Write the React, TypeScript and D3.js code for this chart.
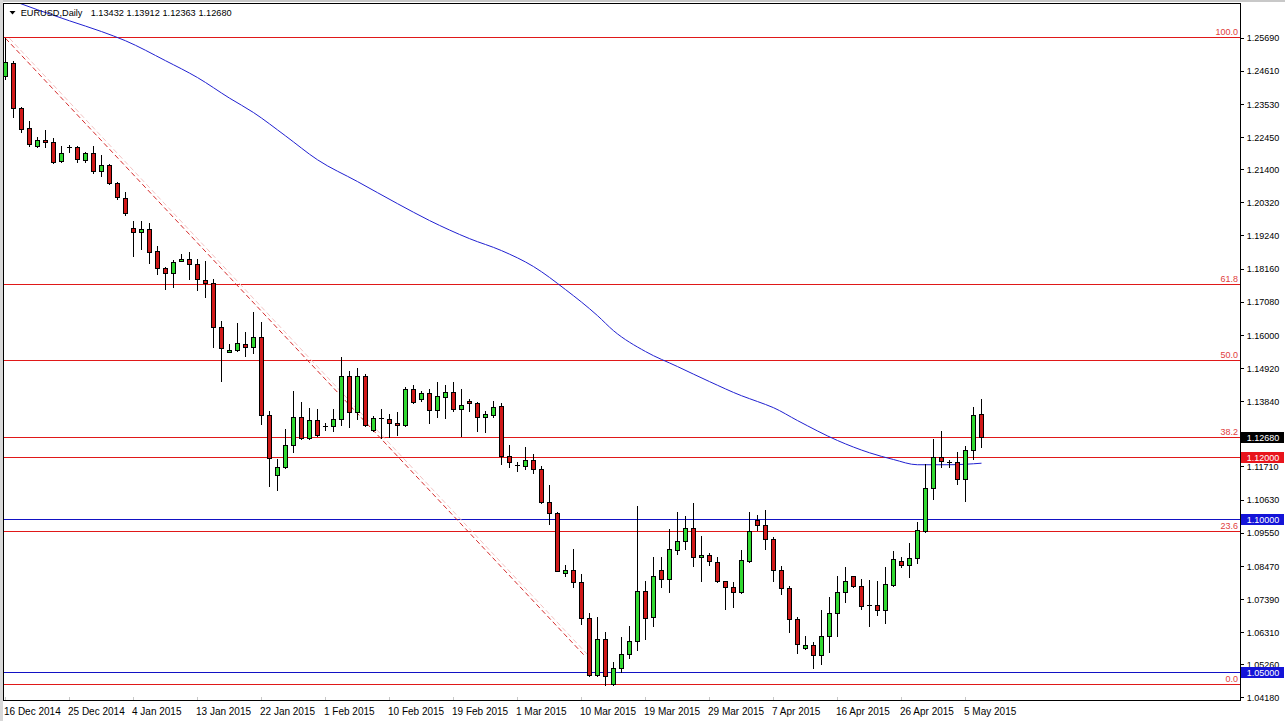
import React from 'react';
import * as d3 from 'd3';

const W = 1285;
const H = 721;

const symbolTitle = 'EURUSD,Daily';
const headerValues = ['1.13432', '1.13912', '1.12363', '1.12680'];

// [open, high, low, close] daily candles, 16 Dec 2014 .. 7 May 2015
const ohlc: [number, number, number, number][] = [
  [1.2446, 1.2570, 1.2436, 1.2490],
  [1.2487, 1.2493, 1.2313, 1.2341],
  [1.2342, 1.2345, 1.2261, 1.2274],
  [1.2275, 1.2300, 1.2218, 1.2223],
  [1.2217, 1.2245, 1.2215, 1.2238],
  [1.2238, 1.2270, 1.2213, 1.2230],
  [1.2231, 1.2243, 1.2160, 1.2166],
  [1.2167, 1.2218, 1.2166, 1.2193],
  [1.2213, 1.2220, 1.2196, 1.2212],
  [1.2213, 1.2218, 1.2164, 1.2175],
  [1.2170, 1.2196, 1.2166, 1.2194],
  [1.2194, 1.2218, 1.2128, 1.2134],
  [1.2134, 1.2186, 1.2118, 1.2155],
  [1.2155, 1.2157, 1.2093, 1.2095],
  [1.2097, 1.2101, 1.2043, 1.2050],
  [1.2047, 1.2067, 1.1993, 1.1997],
  [1.1950, 1.1974, 1.1859, 1.1937],
  [1.1937, 1.1974, 1.1881, 1.1948],
  [1.1948, 1.1966, 1.1836, 1.1870],
  [1.1874, 1.1892, 1.1800, 1.1819],
  [1.1819, 1.1824, 1.1751, 1.1802],
  [1.1802, 1.1845, 1.1756, 1.1838],
  [1.1841, 1.1865, 1.1841, 1.1850],
  [1.1849, 1.1870, 1.1783, 1.1832],
  [1.1832, 1.1849, 1.1748, 1.1783],
  [1.1781, 1.1843, 1.1724, 1.1770],
  [1.1770, 1.1783, 1.1561, 1.1626],
  [1.1628, 1.1648, 1.1452, 1.1558],
  [1.1546, 1.1572, 1.1545, 1.1553],
  [1.1552, 1.1639, 1.1548, 1.1575],
  [1.1572, 1.1612, 1.1534, 1.1561],
  [1.1561, 1.1677, 1.1541, 1.1595],
  [1.1595, 1.1644, 1.1311, 1.1340],
  [1.1340, 1.1354, 1.1108, 1.1199],
  [1.1145, 1.1197, 1.1096, 1.1170],
  [1.1170, 1.1294, 1.1167, 1.1242],
  [1.1242, 1.1419, 1.1218, 1.1333],
  [1.1333, 1.1381, 1.1262, 1.1265],
  [1.1265, 1.1362, 1.1262, 1.1324],
  [1.1324, 1.1360, 1.1273, 1.1275],
  [1.1303, 1.1313, 1.1292, 1.1302],
  [1.1303, 1.1360, 1.1289, 1.1327],
  [1.1327, 1.1530, 1.1307, 1.1468],
  [1.1468, 1.1482, 1.1300, 1.1349],
  [1.1349, 1.1493, 1.1327, 1.1468],
  [1.1468, 1.1474, 1.1305, 1.1307],
  [1.1291, 1.1338, 1.1289, 1.1330],
  [1.1329, 1.1360, 1.1265, 1.1328],
  [1.1327, 1.1343, 1.1267, 1.1314],
  [1.1314, 1.1349, 1.1275, 1.1307],
  [1.1307, 1.1432, 1.1305, 1.1425],
  [1.1425, 1.1439, 1.1378, 1.1384],
  [1.1392, 1.1419, 1.1385, 1.1412],
  [1.1411, 1.1425, 1.1313, 1.1356],
  [1.1356, 1.1447, 1.1333, 1.1403],
  [1.1398, 1.1439, 1.1330, 1.1414],
  [1.1414, 1.1449, 1.1354, 1.1360],
  [1.1360, 1.1425, 1.1273, 1.1373],
  [1.1387, 1.1393, 1.1354, 1.1379],
  [1.1379, 1.1381, 1.1289, 1.1333],
  [1.1333, 1.1354, 1.1284, 1.1343],
  [1.1341, 1.1387, 1.1335, 1.1367],
  [1.1371, 1.1378, 1.1180, 1.1205],
  [1.1206, 1.1242, 1.1170, 1.1188],
  [1.1177, 1.1186, 1.1159, 1.1176],
  [1.1174, 1.1235, 1.1164, 1.1193],
  [1.1195, 1.1213, 1.1150, 1.1164],
  [1.1164, 1.1175, 1.1052, 1.1056],
  [1.1056, 1.1113, 1.0985, 1.1021],
  [1.1021, 1.1023, 1.0831, 1.0833],
  [1.0824, 1.0852, 1.0816, 1.0835],
  [1.0835, 1.0903, 1.0781, 1.0795],
  [1.0797, 1.0822, 1.0659, 1.0677],
  [1.0678, 1.0695, 1.0488, 1.0493],
  [1.0493, 1.0683, 1.0491, 1.0610],
  [1.0610, 1.0634, 1.0461, 1.0491],
  [1.0463, 1.0534, 1.0460, 1.0515],
  [1.0515, 1.0618, 1.0501, 1.0561],
  [1.0561, 1.0653, 1.0548, 1.0602],
  [1.0602, 1.1042, 1.0575, 1.0768],
  [1.0768, 1.0798, 1.0610, 1.0678],
  [1.0681, 1.0878, 1.0651, 1.0814],
  [1.0835, 1.0878, 1.0778, 1.0806],
  [1.0806, 1.0969, 1.0762, 1.0903],
  [1.0901, 1.1025, 1.0887, 1.0930],
  [1.0930, 1.1012, 1.0903, 1.0972],
  [1.0972, 1.1052, 1.0849, 1.0876],
  [1.0876, 1.0947, 1.0798, 1.0884],
  [1.0884, 1.0890, 1.0851, 1.0863],
  [1.0862, 1.0876, 1.0795, 1.0798],
  [1.0798, 1.0798, 1.0708, 1.0778],
  [1.0781, 1.0795, 1.0713, 1.0762],
  [1.0762, 1.0900, 1.0760, 1.0868],
  [1.0865, 1.1025, 1.0862, 1.0963],
  [1.0998, 1.1015, 1.0965, 1.0982],
  [1.0982, 1.1031, 1.0903, 1.0936],
  [1.0936, 1.0944, 1.0798, 1.0835],
  [1.0835, 1.0849, 1.0757, 1.0776],
  [1.0776, 1.0784, 1.0632, 1.0675],
  [1.0675, 1.0681, 1.0563, 1.0594],
  [1.0581, 1.0621, 1.0577, 1.0592],
  [1.0592, 1.0600, 1.0514, 1.0558],
  [1.0558, 1.0705, 1.0529, 1.0621],
  [1.0621, 1.0746, 1.0567, 1.0695],
  [1.0695, 1.0816, 1.0621, 1.0762],
  [1.0762, 1.0846, 1.0730, 1.0800],
  [1.0814, 1.0816, 1.0781, 1.0784],
  [1.0784, 1.0806, 1.0708, 1.0719],
  [1.0721, 1.0802, 1.0653, 1.0720],
  [1.0722, 1.0798, 1.0689, 1.0705],
  [1.0705, 1.0844, 1.0661, 1.0789],
  [1.0787, 1.0898, 1.0784, 1.0871],
  [1.0863, 1.0876, 1.0844, 1.0851],
  [1.0851, 1.0923, 1.0813, 1.0874],
  [1.0874, 1.0990, 1.0857, 1.0965],
  [1.0963, 1.1180, 1.0958, 1.1102],
  [1.1102, 1.1262, 1.1066, 1.1204],
  [1.1204, 1.1289, 1.1170, 1.1189],
  [1.1186, 1.1195, 1.1170, 1.1185],
  [1.1186, 1.1218, 1.1115, 1.1132],
  [1.1132, 1.1240, 1.1061, 1.1227],
  [1.1227, 1.1367, 1.1197, 1.1341],
  [1.13432, 1.13912, 1.12363, 1.12680],
];

// date labels, one every 8 bars starting at bar 0
const dateLabels = [
  '16 Dec 2014', '25 Dec 2014', '4 Jan 2015', '13 Jan 2015', '22 Jan 2015',
  '1 Feb 2015', '10 Feb 2015', '19 Feb 2015', '1 Mar 2015', '10 Mar 2015',
  '19 Mar 2015', '29 Mar 2015', '7 Apr 2015', '16 Apr 2015', '26 Apr 2015', '5 May 2015',
];
const dateLabelEvery = 8;

const priceTicks = [
  1.25690, 1.24610, 1.23530, 1.22450, 1.21400, 1.20320, 1.19240, 1.18160,
  1.17080, 1.16000, 1.14920, 1.13840, 1.11710, 1.10630, 1.09550,
  1.08470, 1.07390, 1.06310, 1.05260, 1.04180,
];

// Fibonacci retracement
const fibHigh = 1.2570;
const fibLow = 1.0463;
const fibLevels = [0.0, 23.6, 38.2, 50.0, 61.8, 100.0];

// horizontal support / resistance
const redLevels = [1.12000];
const blueLevels = [1.10000, 1.05000];
const lastPrice = 1.12680;

// 200-day moving average, [bar index, value]
const maPoints: [number, number][] = [
  [0, 1.2699], [4, 1.2661], [8, 1.2625], [12, 1.2590], [15, 1.2560], [20, 1.2495],
  [24, 1.2440], [28, 1.2373], [31, 1.2326], [35, 1.2250], [39, 1.2172], [44, 1.2101],
  [49, 1.2029], [53, 1.1974], [58, 1.1915], [62, 1.1876], [66, 1.1824], [70, 1.1749],
  [74, 1.1664], [76, 1.1615], [80, 1.1547], [84, 1.1498], [88, 1.1449], [92, 1.1403],
  [94, 1.1384], [96, 1.1364], [99, 1.1322], [104, 1.1257], [108, 1.1217], [111, 1.1195],
  [114, 1.1178], [118, 1.1178], [122, 1.1183],
];

// dashed trend line, [bar index, price]
const trendLine: [number, number][] = [[0, 1.2568], [72.3, 1.0558]];

const FONT = '"Liberation Sans", Arial, sans-serif';
const BULL = '#30d830';
const BEAR = '#d01818';
const RED_LINE = '#e01818';
const BLUE_LINE = '#1212c4';

const plot = { left: 3.5, top: 3.5, right: 1240.5, bottom: 700.5 };

export default function App() {
  const x = d3.scaleLinear().domain([0, 122]).range([5.5, 981.5]);
  const y = d3.scaleLinear().domain([1.04180, 1.25690]).range([697.9, 38.0]);
  const crisp = (v: number) => Math.floor(v) + 0.5;

  const maLine = d3
    .line<[number, number]>()
    .x((d) => x(d[0]))
    .y((d) => y(d[1]))
    .curve(d3.curveMonotoneX)(maPoints) as string;

  const tl = d3
    .line<[number, number]>()
    .x((d) => x(d[0]))
    .y((d) => y(d[1]))(trendLine) as string;

  const fibPrices = fibLevels.map((l) => ({ l, p: fibLow + ((fibHigh - fibLow) * l) / 100 }));

  const boxes = [
    { p: lastPrice, fill: '#000000' },
    ...redLevels.map((p) => ({ p, fill: '#e8141c' })),
    ...blueLevels.map((p) => ({ p, fill: '#1414d8' })),
  ];

  return (
    <svg
      width={W}
      height={H}
      style={{ position: 'absolute', left: 0, top: 0, background: '#fff' }}
      fontFamily={FONT}
    >
      <defs>
        <clipPath id="plotClip">
          <rect x={plot.left} y={plot.top} width={plot.right - plot.left} height={plot.bottom - plot.top} />
        </clipPath>
      </defs>
      <rect x={0} y={0} width={W} height={H} fill="#fff" />
      <rect x={0} y={0} width={W} height={2} fill="#c8c8c8" />
      <rect x={0} y={0} width={3} height={H} fill="#d8d8d8" />

      <g clipPath="url(#plotClip)">
        {fibPrices.map((f) => (
          <line key={'f' + f.l} x1={plot.left} x2={plot.right} y1={crisp(y(f.p))} y2={crisp(y(f.p))} stroke={RED_LINE} strokeWidth={1} />
        ))}
        {redLevels.map((p) => (
          <line key={'r' + p} x1={plot.left} x2={plot.right} y1={crisp(y(p))} y2={crisp(y(p))} stroke={RED_LINE} strokeWidth={1} />
        ))}
        {blueLevels.map((p) => (
          <line key={'b' + p} x1={plot.left} x2={plot.right} y1={crisp(y(p))} y2={crisp(y(p))} stroke={BLUE_LINE} strokeWidth={1} />
        ))}

        <path d={tl} transform="translate(4,0)" fill="none" stroke="#f2c4c4" strokeWidth={1} strokeDasharray="5,3" />
        <path d={tl} fill="none" stroke="#d42a2a" strokeWidth={1} strokeDasharray="5,3" />

        <path d={maLine} fill="none" stroke="#2020d0" strokeWidth={1} />

        {ohlc.map((d, i) => {
          const [o, h, l, c] = d;
          const cx = crisp(x(i));
          const yh = Math.round(y(h));
          const yl = Math.round(y(l));
          const yt = Math.round(y(Math.max(o, c))) + 0.5;
          const yb = Math.round(y(Math.min(o, c))) + 0.5;
          const bull = c > o;
          const flat = yb - yt < 1.5;
          return (
            <g key={i}>
              <line x1={cx} x2={cx} y1={yh} y2={yl + 1} stroke="#000" strokeWidth={1} />
              {flat ? (
                <line x1={cx - 2.5} x2={cx + 2.5} y1={yt} y2={yt} stroke="#000" strokeWidth={1} />
              ) : (
                <rect x={cx - 2} y={yt} width={4} height={yb - yt} fill={bull ? BULL : BEAR} stroke="#000" strokeWidth={1} />
              )}
            </g>
          );
        })}
      </g>

      {fibPrices.map((f) => (
        <text key={'fl' + f.l} x={1238} y={crisp(y(f.p)) - 2.5} textAnchor="end" fontSize={9} fill="#e04040">
          {f.l.toFixed(1)}
        </text>
      ))}

      <rect x={plot.left} y={plot.top} width={plot.right - plot.left} height={plot.bottom - plot.top} fill="none" stroke="#000" strokeWidth={1} />

      <polygon points="9.5,11 15.5,11 12.5,14.5" fill="#000" />
      <text x={20.7} y={16} fontSize={9.2} fill="#000">{symbolTitle}</text>
      {headerValues.map((v, k) => (
        <text key={v + k} x={90.7 + k * 35.9} y={16} fontSize={9.2} fill="#000">{v}</text>
      ))}

      {priceTicks.map((p) => (
        <g key={'pt' + p}>
          <line x1={1241} x2={1244} y1={crisp(y(p))} y2={crisp(y(p))} stroke="#000" strokeWidth={1} />
          <text x={1246.7} y={y(p) + 3.3} fontSize={9} fill="#000">{p.toFixed(5)}</text>
        </g>
      ))}
      {boxes.map((b) => {
        const cy = crisp(y(b.p));
        return (
          <g key={'bx' + b.p}>
            <rect x={1241} y={cy - 5.5} width={43} height={11} fill={b.fill} />
            <text x={1246.7} y={cy + 3.3} fontSize={9} fill="#fff">{b.p.toFixed(5)}</text>
          </g>
        );
      })}

      {dateLabels.map((lab, k) => {
        const xx = x(k * dateLabelEvery);
        return (
          <g key={lab}>
            <line x1={crisp(xx)} x2={crisp(xx)} y1={697} y2={700} stroke="#c8c8c8" strokeWidth={1} />
            <text x={xx - 1.5} y={715} fontSize={10} fill="#000">{lab}</text>
          </g>
        );
      })}
    </svg>
  );
}
